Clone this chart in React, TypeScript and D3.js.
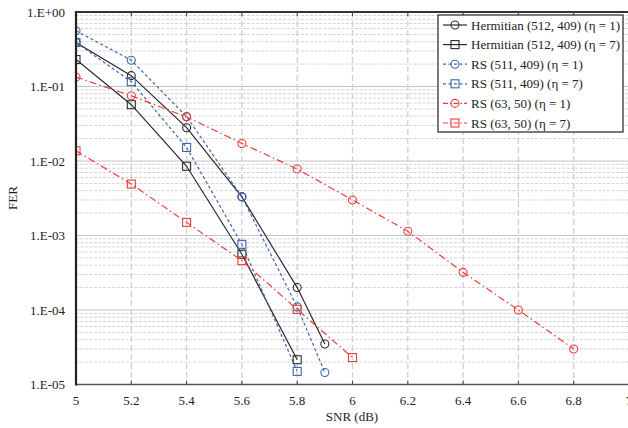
import React from "react";
import * as d3 from "d3";

const snrTicks = [5, 5.2, 5.4, 5.6, 5.8, 6, 6.2, 6.4, 6.6, 6.8, 7];
const ferTickLabels = ["1.E+00", "1.E-01", "1.E-02", "1.E-03", "1.E-04", "1.E-05"];
const ferTickValues = [1, 1e-1, 1e-2, 1e-3, 1e-4, 1e-5];

const hermSnr1 = [5, 5.2, 5.4, 5.6, 5.8, 5.9];
const hermFer1 = [0.39, 0.14, 0.028, 0.0033, 2.0e-4, 3.5e-5];
const hermSnr7 = [5, 5.2, 5.4, 5.6, 5.8];
const hermFer7 = [0.23, 0.057, 0.0085, 5.6e-4, 2.15e-5];
const rs511Snr1 = [5, 5.2, 5.4, 5.6, 5.8, 5.9];
const rs511Fer1 = [0.56, 0.225, 0.0395, 0.0033, 1.1e-4, 1.45e-5];
const rs511Snr7 = [5, 5.2, 5.4, 5.6, 5.8];
const rs511Fer7 = [0.39, 0.116, 0.0152, 7.6e-4, 1.5e-5];
const rs63Snr1 = [5, 5.2, 5.4, 5.6, 5.8, 6, 6.2, 6.4, 6.6, 6.8];
const rs63Fer1 = [0.134, 0.075, 0.039, 0.0172, 0.0078, 0.003, 1.14e-3, 3.2e-4, 1.0e-4, 3.0e-5];
const rs63Snr7 = [5, 5.2, 5.4, 5.6, 5.8, 6];
const rs63Fer7 = [0.0137, 0.0049, 0.0015, 4.6e-4, 1.02e-4, 2.3e-5];

const seriesNames = [
  "Hermitian (512, 409) (η = 1)",
  "Hermitian (512, 409) (η = 7)",
  "RS (511, 409) (η = 1)",
  "RS (511, 409) (η = 7)",
  "RS (63, 50) (η = 1)",
  "RS (63, 50) (η = 7)",
];

const BLACK = "#2b2b2b";
const BLUE = "#3d66ae";
const RED = "#ee3b3b";

const series = [
  { name: seriesNames[0], x: hermSnr1, y: hermFer1, color: BLACK, dash: "none", marker: "circle" },
  { name: seriesNames[1], x: hermSnr7, y: hermFer7, color: BLACK, dash: "none", marker: "square" },
  { name: seriesNames[2], x: rs511Snr1, y: rs511Fer1, color: BLUE, dash: "3,2.5", marker: "circle" },
  { name: seriesNames[3], x: rs511Snr7, y: rs511Fer7, color: BLUE, dash: "3,2.5", marker: "square" },
  { name: seriesNames[4], x: rs63Snr1, y: rs63Fer1, color: RED, dash: "7,3,1.5,3", marker: "circle" },
  { name: seriesNames[5], x: rs63Snr7, y: rs63Fer7, color: RED, dash: "7,3,1.5,3", marker: "square" },
];

const W = 628;
const H = 428;
const L = 76;
const R = 629;
const T = 12;
const B = 384.5;
const FONT = "'Liberation Serif', 'Times New Roman', serif";

function Marker({ type, cx, cy, color }: { type: string; cx: number; cy: number; color: string }) {
  if (type === "circle") {
    return <circle cx={cx} cy={cy} r={4} fill="none" stroke={color} strokeWidth={1.1} />;
  }
  return <rect x={cx - 4} y={cy - 4} width={8} height={8} fill="none" stroke={color} strokeWidth={1.1} />;
}

export default function App() {
  const x = d3.scaleLinear().domain([5, 7]).range([L, R]);
  const y = d3.scaleLog().domain([1e-5, 1]).range([B, T]);

  const minor: number[] = [];
  for (let e = -5; e < 0; e++) {
    for (let m = 2; m <= 9; m++) minor.push(m * Math.pow(10, e));
  }

  const line = d3
    .line<[number, number]>()
    .x((d) => x(d[0]))
    .y((d) => y(d[1]));

  const legX = 438;
  const legY = 15;
  const legW = 185;
  const legH = 117;
  const rowH = 19.6;

  return (
    <svg
      width={W}
      height={H}
      style={{ position: "absolute", left: 0, top: 0, background: "#fff" }}
      fontFamily={FONT}
    >
      <defs>
        <clipPath id="plotclip">
          <rect x={L} y={T - 6} width={R - L + 10} height={B - T + 12} />
        </clipPath>
      </defs>
      <rect x={0} y={0} width={W} height={H} fill="#fff" />
      {/* minor horizontal grid */}
      {minor.map((v, i) => (
        <line key={"mn" + i} x1={L} x2={R} y1={y(v)} y2={y(v)} stroke="#d4d4d4" strokeWidth={1} strokeDasharray="3,1.5" />
      ))}
      {/* major horizontal grid */}
      {ferTickValues.map((v, i) => (
        <line key={"mj" + i} x1={L} x2={R} y1={y(v)} y2={y(v)} stroke="#c6c6c6" strokeWidth={1.2} />
      ))}
      {/* vertical grid */}
      {snrTicks.slice(1).map((v, i) => (
        <line key={"vg" + i} x1={x(v)} x2={x(v)} y1={T} y2={B} stroke="#cfcfcf" strokeWidth={1.3} strokeDasharray="6,3" />
      ))}
      {/* series */}
      <g clipPath="url(#plotclip)">
        {series.map((s, si) => {
          const pts = s.x.map((v, i) => [v, s.y[i]] as [number, number]);
          return (
            <g key={"s" + si}>
              <path d={line(pts) || ""} fill="none" stroke={s.color} strokeWidth={1.2} strokeDasharray={s.dash} />
              {pts.map((p, i) => (
                <Marker key={i} type={s.marker} cx={x(p[0])} cy={y(p[1])} color={s.color} />
              ))}
            </g>
          );
        })}
      </g>
      {/* frame */}
      <line x1={L} x2={R} y1={T} y2={T} stroke="#333" strokeWidth={2} />
      <line x1={L} x2={R} y1={B} y2={B} stroke="#555" strokeWidth={1.6} />
      <line x1={L} x2={L} y1={T - 1} y2={B + 1} stroke="#222" strokeWidth={2.2} />
      {/* ticks */}
      {snrTicks.slice(1).map((v, i) => (
        <g key={"tk" + i}>
          <line x1={x(v)} x2={x(v)} y1={T} y2={T + 4} stroke="#444" strokeWidth={1} />
          <line x1={x(v)} x2={x(v)} y1={B} y2={B - 4} stroke="#444" strokeWidth={1} />
        </g>
      ))}
      {/* x tick labels */}
      {snrTicks.map((v, i) => (
        <text key={"xl" + i} x={x(v)} y={405} fontSize={13} textAnchor="middle" fill="#222">
          {String(v)}
        </text>
      ))}
      {/* y tick labels */}
      {ferTickValues.map((v, i) => (
        <text key={"yl" + i} x={65} y={y(v)} dy="0.35em" fontSize={13} textAnchor="end" fill="#222">
          {ferTickLabels[i]}
        </text>
      ))}
      <text x={352} y={421} fontSize={13} textAnchor="middle" fill="#222">
        SNR (dB)
      </text>
      <text
        transform={`translate(17,198) rotate(-90)`}
        fontSize={13}
        textAnchor="middle"
        fill="#222"
      >
        FER
      </text>
      {/* legend */}
      <rect x={legX} y={legY} width={legW} height={legH} fill="#fff" stroke="#222" strokeWidth={1.2} />
      {series.map((s, i) => {
        const cy = 25 + i * rowH;
        return (
          <g key={"lg" + i}>
            <line x1={443} x2={467} y1={cy} y2={cy} stroke={s.color} strokeWidth={1.2} strokeDasharray={s.marker && s.dash !== "none" ? (s.color === BLUE ? "3,2.5" : "5,2,1.5,2") : "none"} />
            <Marker type={s.marker} cx={455} cy={cy} color={s.color} />
            <text x={471} y={cy} dy="0.35em" fontSize={13} fill="#222">
              {s.name}
            </text>
          </g>
        );
      })}
    </svg>
  );
}
